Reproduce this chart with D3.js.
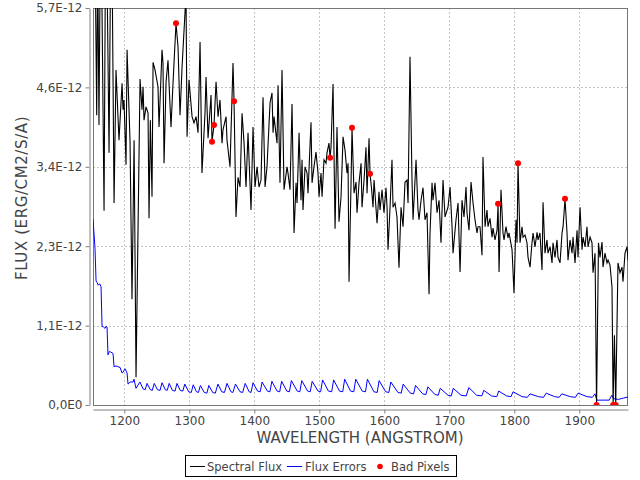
<!DOCTYPE html>
<html><head><meta charset="utf-8">
<script src="https://cdn.jsdelivr.net/npm/d3@7/dist/d3.min.js"></script>
<style>body{margin:0;background:#fff}</style>
</head><body><svg id="c" width="640" height="480"></svg>
<script>
// values in units of 1E-12 erg/cm2/s/A
const fluxWave = [1152,1155,1157.5,1159,1161,1163,1165,1168.8,1171,1173,1176.5,1179,1181,1184.2,1187.2,1191.8,1196.5,1198,1199.5,1202.6,1204.2,1208.8,1211.8,1215,1218,1224.2,1227.2,1228.8,1230.3,1233.4,1236.5,1238,1240,1242.6,1244.2,1247.2,1251.8,1253.4,1258,1259.5,1261.1,1264.2,1267.2,1271.8,1274.9,1279.5,1282.6,1285.7,1288.8,1294.9,1296.5,1299.5,1304.2,1307.2,1310.3,1313.4,1316.5,1319.5,1324.2,1325.7,1328.8,1333.4,1334.9,1338,1341.1,1344.2,1347.2,1350.3,1351.8,1356.5,1358,1362.6,1367.2,1368.8,1371.8,1374.9,1378,1381.1,1384.2,1387.2,1390.3,1394.9,1398,1401.1,1404.2,1407.2,1410.3,1413.4,1416.5,1419.5,1424.2,1427.2,1428.8,1430.3,1434.9,1436.5,1439.5,1442.6,1445.7,1450.3,1451.8,1454.9,1458,1461.1,1464.2,1465.7,1468.8,1471.8,1473.4,1474.9,1478,1481.1,1482.6,1487.2,1488.8,1491.8,1494.9,1498,1499.5,1502.6,1504.2,1507.2,1510.3,1511.8,1514.9,1516.5,1518,1521.1,1524.2,1527.2,1530.3,1533.4,1536.5,1539.5,1542.6,1544.2,1545.7,1548.8,1550.3,1553.4,1556.5,1558,1561.1,1564.2,1565.7,1568.8,1571.8,1573.4,1576.5,1578,1580.5,1582.6,1584.2,1588.8,1591.8,1593.4,1596.5,1599.5,1602.6,1604.2,1605.7,1608.8,1611.8,1613.4,1616.5,1619.5,1622.6,1625.7,1628.8,1631.8,1634.9,1636.5,1639.5,1642.6,1644.2,1648.8,1651.8,1653.4,1656.5,1659.5,1662.6,1665.7,1668.8,1670.3,1673.4,1674.9,1678,1681.1,1684.2,1687.2,1690.3,1693.4,1698,1701.1,1704.2,1705.7,1710.3,1713.4,1716.5,1719.5,1722.6,1725.7,1727.2,1730.3,1733.4,1736.5,1739.5,1742.6,1744.2,1747.2,1750.3,1751.8,1755,1758,1759.5,1762.6,1765.7,1767.2,1770.3,1773.4,1775,1776.5,1779.5,1782.6,1784.2,1787.2,1790.3,1791.8,1796.5,1799.5,1802.6,1804.2,1805.7,1808.8,1811.8,1813.4,1816.5,1819.5,1821.1,1824.2,1827.2,1828.8,1831.8,1835,1836.5,1839.5,1842.6,1844.2,1847.2,1850.3,1851.8,1855,1858,1859.5,1862.6,1865.7,1867.2,1870.3,1873.4,1875,1878,1881.1,1882.6,1885.7,1888.8,1890.3,1893.4,1896.5,1898,1901.1,1904.2,1905.7,1908.8,1911.8,1913.4,1916.5,1919.5,1921.1,1924.2,1926.5,1929.5,1931.8,1934.9,1936.5,1939.5,1942.6,1944.2,1947.2,1950.3,1952,1954,1956,1959.5,1962.6,1965.7,1967.2,1970.3,1973.4,1975,1977];
const fluxValue = [6.2,6.5,4.16,6.5,4.02,6.5,6.3,2.79,6.5,6.5,3.62,6.5,6.5,2.90,4.81,3.80,4.62,4.24,4.38,3.45,5.10,3.78,1.52,3.80,0.40,4.68,4.24,4.57,4.09,4.28,4.19,2.68,4.09,2.99,4.92,4.81,4.57,3.99,5.10,4.91,3.47,4.64,4.95,3.99,4.62,5.48,5.14,4.16,4.85,5.9,3.85,4.67,4.14,4.05,4.14,3.91,5.21,3.33,4.21,4.71,3.83,4.45,3.78,4.02,4.64,4.14,4.38,3.76,3.95,4.14,3.80,3.42,4.91,4.36,2.70,3.27,3.13,4.19,3.76,3.13,3.91,2.80,3.99,3.13,3.42,3.13,3.23,4.42,3.13,3.42,4.34,4.48,3.91,4.14,3.76,4.59,3.19,4.81,3.09,3.42,3.33,3.09,4.32,2.47,3.19,2.90,3.91,2.94,3.52,2.80,3.42,3.33,3.04,4.06,3.19,3.42,3.63,3.33,2.99,3.33,2.99,3.52,3.47,3.62,3.76,3.55,3.70,4.61,2.53,3.99,2.63,2.99,3.85,3.66,3.33,3.47,1.77,3.19,3.98,3.04,3.20,2.76,3.19,3.47,2.84,3.23,3.70,3.04,3.83,3.32,3.09,2.84,3.23,2.61,3.06,2.80,3.09,2.76,3.12,2.84,2.23,2.84,3.52,2.84,2.90,2.70,1.97,2.84,2.56,3.20,3.23,2.90,5.00,3.23,2.66,3.52,2.80,2.66,2.94,3.12,2.66,2.76,1.59,2.47,3.19,2.94,3.19,2.76,2.94,2.33,3.23,2.70,2.84,3.13,2.56,2.18,2.66,2.90,1.91,2.94,2.70,3.13,2.76,2.51,3.20,2.90,2.66,2.47,2.56,2.56,2.15,3.56,2.56,2.80,2.56,2.68,2.41,2.54,2.37,2.51,2.89,1.91,3.09,2.47,2.37,2.56,2.40,2.47,2.23,1.61,2.66,2.33,3.47,2.33,2.56,2.41,2.44,2.33,2.12,1.98,2.33,2.47,2.27,2.48,2.37,2.47,1.94,2.91,2.18,2.37,2.18,2.27,2.04,2.33,2.12,2.37,2.12,2.04,2.47,2.56,2.96,2.47,2.08,2.37,2.18,2.41,2.04,2.51,2.12,2.84,2.23,2.41,2.27,2.56,2.27,2.41,2.33,1.90,2.18,0,2.33,2.12,2.34,1.98,2.18,2.04,2.08,2.01,1.69,0,1.0,0,2.04,1.90,1.98,1.77,2.18,2.27,2.08,2.20];
const errWave = [1151.8,1154.9,1156.5,1158,1160,1162,1164.2,1165.7,1168,1170.3,1172,1173.4,1174.9,1177,1179,1181,1182.6,1184.2,1187,1190,1193.4,1196.5,1198,1201.1,1204.2,1205.7,1209,1213.4,1214.9,1218,1224,1229,1232,1235,1240,1243,1246,1251,1255,1258,1263,1266,1269,1274,1278,1281,1286,1290,1293,1299,1303,1306,1311,1314,1317,1323,1327,1330,1336,1340,1344,1350,1354,1358,1364,1367,1371,1378,1382,1386,1392,1395,1398,1405,1409,1412,1420,1424,1427,1435,1439,1442,1450,1454,1457,1466,1470,1473,1482,1486,1489,1498,1502,1505,1514,1519,1522,1531,1536,1539,1548,1553,1556,1566,1571,1574,1584,1589,1592,1602,1607,1610,1621,1626,1629,1640,1645,1648,1659,1664,1667,1678,1683,1686,1698,1703,1706,1718,1726,1730,1742,1750,1753,1765,1773,1776,1788,1795,1798,1812,1820,1824,1837,1845,1849,1862,1869,1873,1886,1894,1898,1912,1920,1924,1927,1937,1946,1950,1953,1960,1968,1977];
const errValue = [2.67,2.25,1.78,1.76,1.72,1.74,1.70,1.13,1.12,1.10,1.13,1.12,0.72,0.77,0.76,0.75,0.74,0.55,0.56,0.55,0.54,0.46,0.47,0.52,0.46,0.30,0.33,0.33,0.37,0.24,0.33,0.23,0.22,0.31,0.22,0.21,0.31,0.22,0.21,0.32,0.22,0.21,0.31,0.21,0.20,0.31,0.21,0.20,0.30,0.19,0.18,0.29,0.19,0.18,0.28,0.18,0.17,0.28,0.18,0.17,0.30,0.19,0.18,0.31,0.19,0.18,0.30,0.19,0.18,0.31,0.19,0.18,0.32,0.20,0.19,0.33,0.20,0.19,0.34,0.20,0.19,0.34,0.20,0.19,0.35,0.20,0.19,0.35,0.20,0.19,0.34,0.20,0.19,0.36,0.20,0.19,0.36,0.20,0.19,0.37,0.20,0.19,0.37,0.20,0.19,0.37,0.19,0.18,0.35,0.19,0.18,0.33,0.18,0.17,0.30,0.17,0.16,0.28,0.16,0.15,0.26,0.15,0.14,0.24,0.14,0.13,0.24,0.14,0.13,0.25,0.14,0.13,0.21,0.13,0.12,0.20,0.13,0.12,0.19,0.12,0.11,0.16,0.12,0.11,0.17,0.12,0.11,0.16,0.12,0.11,0.17,0.12,0.11,0.16,0.07,0.07,0.07,0.14,0.09,0.08,0.10,0.12];
const badWave = [1279.5,1334.9,1338,1368.8,1516.5,1550.3,1578,1775,1805.7,1878,1926.5,1952,1956];
const badValue = [5.48,3.78,4.02,4.36,3.55,3.98,3.32,2.89,3.47,2.96,0,0,0];
const xTicks = [1200,1300,1400,1500,1600,1700,1800,1900];
const yTicks = [0,1.14,2.28,3.42,4.56,5.7];
const yTickLabels = ["0,0E0","1,1E-12","2,3E-12","3,4E-12","4,6E-12","5,7E-12"];
const seriesNames = ["Spectral Flux","Flux Errors","Bad Pixels"];
const xTitle = "WAVELENGTH (ANGSTROM)";
const yTitle = "FLUX (ERG/CM2/S/A)";

const L = 93, R = 628, T = 8, B = 405;
const svg = d3.select("#c");
const font = "'DejaVu Sans', sans-serif";
const x = d3.scaleLinear().domain([1151.8, 1974.9]).range([L, R]);
const y = d3.scaleLinear().domain([0, 5.7]).range([B, T]);

svg.append("defs").append("clipPath").attr("id","clip")
  .append("rect").attr("x",L).attr("y",T).attr("width",R-L).attr("height",B-T);

// grid
const grid = svg.append("g").attr("stroke","#c4c4c4").attr("stroke-dasharray","2,2").attr("stroke-width",1);
grid.selectAll(".gx").data(xTicks).enter().append("line")
  .attr("x1",d=>Math.round(x(d))+0.5).attr("x2",d=>Math.round(x(d))+0.5).attr("y1",T).attr("y2",B);
grid.selectAll(".gy").data(yTicks).enter().append("line")
  .attr("y1",d=>Math.round(y(d))+0.5).attr("y2",d=>Math.round(y(d))+0.5).attr("x1",L).attr("x2",R);

// plot border
svg.append("rect").attr("x",L+0.5).attr("y",T+0.5).attr("width",R-L-1).attr("height",B-T)
  .attr("fill","none").attr("stroke","#777");

const plot = svg.append("g").attr("clip-path","url(#clip)");
const flux = fluxWave.map((w,i)=>[w,fluxValue[i]]);
const err = errWave.map((w,i)=>[w,errValue[i]]);
const bad = badWave.map((w,i)=>[w,badValue[i]]);
const line = d3.line().x(d=>x(d[0])).y(d=>y(d[1]));
plot.append("path").datum(err).attr("d",line).attr("fill","none").attr("stroke","#0000ff").attr("stroke-width",1);
plot.append("path").datum(flux).attr("d",line).attr("fill","none").attr("stroke","#000").attr("stroke-width",1.1);
plot.selectAll("circle").data(bad).enter().append("circle")
  .attr("cx",d=>x(d[0])).attr("cy",d=>y(d[1])).attr("r",3).attr("fill","#ff0000");

// axes
const xAxis = svg.append("g").attr("transform",`translate(0,${B+4.5})`)
  .call(d3.axisBottom(x).tickValues(xTicks).tickFormat(d3.format("d")).tickSize(4).tickSizeOuter(0).tickPadding(3));
const yAxis = svg.append("g").attr("transform",`translate(${L-3.5},0)`)
  .call(d3.axisLeft(y).tickValues(yTicks).tickFormat((d,i)=>yTickLabels[i]).tickSize(4).tickSizeOuter(0).tickPadding(3));
[xAxis,yAxis].forEach(a=>{
  a.select(".domain").attr("stroke","#808080");
  a.selectAll(".tick line").attr("stroke","#808080");
  a.selectAll(".tick text").attr("fill","#444").style("font-family",font).style("font-size","12px");
});

svg.append("text").attr("x",360).attr("y",443).attr("text-anchor","middle")
  .attr("fill","#444").style("font-family",font).style("font-size","15px").text(xTitle);
svg.append("text").attr("transform",`translate(27,198) rotate(-90)`).attr("text-anchor","middle")
  .attr("fill","#444").style("font-family",font).style("font-size","15px").style("letter-spacing","0.6px").text(yTitle);

// legend
const lg = svg.append("g");
lg.append("rect").attr("x",185.5).attr("y",455.5).attr("width",271).attr("height",21).attr("fill","#fff").attr("stroke","#000");
lg.append("line").attr("x1",190).attr("x2",205).attr("y1",466.5).attr("y2",466.5).attr("stroke","#000");
lg.append("text").attr("x",207).attr("y",470.5).text(seriesNames[0]);
lg.append("line").attr("x1",287).attr("x2",302).attr("y1",466.5).attr("y2",466.5).attr("stroke","#0000ff");
lg.append("text").attr("x",305).attr("y",470.5).text(seriesNames[1]);
lg.append("circle").attr("cx",380).attr("cy",466.5).attr("r",2.8).attr("fill","#ff0000");
lg.append("text").attr("x",391).attr("y",470.5).text(seriesNames[2]);
lg.selectAll("text").attr("fill","#444").style("font-family",font).style("font-size","11.5px");
</script></body></html>
